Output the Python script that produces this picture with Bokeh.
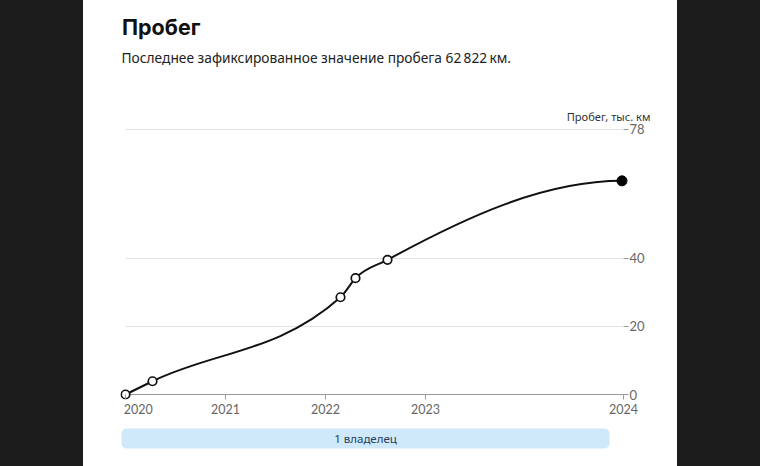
import numpy as np
from bokeh.plotting import figure
from bokeh.models import Range1d, FixedTicker, Label, Div, Grid, Title
from bokeh.layouts import row, column
from bokeh.embed import file_html
from bokeh.resources import INLINE
from bokeh.core.properties import value

# ---------------- data ----------------
title_text = "Пробег"
subtitle_text = "Последнее зафиксированное значение пробега 62\u202f822\u202fкм."
axis_title = "Пробег, тыс. км"

# mileage records: date (fractional year) and mileage (thousand km)
record_dates = [2020.00, 2020.27, 2022.15, 2022.30, 2022.62, 2024.965]
record_km = [0.0, 3.9, 28.6, 34.2, 39.6, 62.822]
today = 2024.98

year_ticks = [record_dates[0], 2021, 2022, 2023, today]
year_labels = ["2020", "2021", "2022", "2023", "2024"]
km_ticks = [0, 20, 40, 78]
km_grid = [20, 40, 78]

owner_labels = ["1 владелец"]
owner_start = [2019.96]
owner_end = [2024.84]

# ---------------- styling ----------------
DARK = "#1c1c1c"
SIDE_W = 83
CARD_W = 594
TOTAL_H = 466
HEAD_H = 100
MAIN_H = 320
BORDER_L = 37
BORDER_R = 49
AX_GRAY = "#9a9a9a"
LABEL_GRAY = "#666666"
GRID_GRAY = "#e4e4e4"

# first label is left-aligned at the axis start (padding with no-break spaces)
tick_texts = ["\u00a0" * 8 + year_labels[0]] + year_labels[1:]

# line through records, extended flat to today (monotone-x cubic as in d3)
line_x = record_dates + [today]
line_y = record_km + [record_km[-1]]


def monotone_tangents(xs, ys):
    n = len(xs)
    h = [xs[i + 1] - xs[i] for i in range(n - 1)]
    s = [(ys[i + 1] - ys[i]) / h[i] for i in range(n - 1)]
    t = [0.0] * n
    for i in range(1, n - 1):
        p_ = (s[i - 1] * h[i] + s[i] * h[i - 1]) / (h[i - 1] + h[i])
        sg = np.sign(s[i - 1]) + np.sign(s[i])
        t[i] = sg * min(abs(s[i - 1]), abs(s[i]), 0.5 * abs(p_))
    t[0] = (3 * s[0] - t[1]) / 2
    t[-1] = (3 * s[-1] - t[-2]) / 2
    return h, t


h, t = monotone_tangents(line_x, line_y)
x0 = line_x[:-1]
y0 = line_y[:-1]
x1 = line_x[1:]
y1 = line_y[1:]
cx0 = [x0[i] + h[i] / 3 for i in range(len(h))]
cy0 = [y0[i] + h[i] * t[i] / 3 for i in range(len(h))]
cx1 = [x1[i] - h[i] / 3 for i in range(len(h))]
cy1 = [y1[i] - h[i] * t[i + 1] / 3 for i in range(len(h))]

pad_x = 0.05
pad_y = 1.47
xr = Range1d(record_dates[0] - pad_x, today + pad_x)

# ---------------- header (title + subtitle) ----------------
p0 = figure(width=CARD_W, height=HEAD_H, output_backend="svg", toolbar_location=None,
            title=None, x_axis_type=None, y_axis_type=None,
            x_range=xr, y_range=Range1d(HEAD_H, 0),
            min_border_left=BORDER_L, min_border_right=BORDER_R,
            min_border_top=0, min_border_bottom=0)
p0.outline_line_color = None
p0.grid.visible = False
p0.add_layout(Label(x=record_dates[0], y=26.5, x_offset=-3.5,
                    text=title_text, text_font="Inter", text_font_style="bold",
                    text_font_size="21.5px", text_color="#111111", text_baseline="alphabetic"))
p0.add_layout(Label(x=record_dates[0], y=56.5, x_offset=-4,
                    text=subtitle_text, text_font="Noto Sans",
                    text_font_size="13.75px", text_color="#222222", text_baseline="alphabetic"))

# ---------------- main chart ----------------
p = figure(width=CARD_W, height=MAIN_H, output_backend="svg", toolbar_location=None,
           title=None, x_range=xr, y_range=Range1d(-pad_y, 79.1),
           y_axis_location="right",
           min_border_left=BORDER_L, min_border_right=BORDER_R,
           min_border_top=25, min_border_bottom=21)
p.outline_line_color = None

p.add_layout(Title(text=axis_title, align="right", offset=-22, standoff=3,
                   text_font="Noto Sans", text_font_style="normal",
                   text_font_size="11.1px", text_color="#333333"), "above")

# x axis
p.xaxis.ticker = FixedTicker(ticks=year_ticks)
p.xaxis.major_label_overrides = dict(zip(year_ticks, tick_texts))
p.xaxis.axis_line_color = None
p.xaxis.major_tick_in = 5
p.xaxis.major_tick_out = 0
p.xaxis.major_tick_line_color = AX_GRAY
p.xaxis.minor_tick_line_color = None
p.xaxis.major_label_standoff = 2
p.xaxis.major_label_text_font = "Lato"
p.xaxis.major_label_text_font_size = "12.5px"
p.xaxis.major_label_text_color = LABEL_GRAY

# y axis (right)
p.yaxis.ticker = FixedTicker(ticks=km_ticks)
p.yaxis.axis_line_color = None
p.yaxis.major_tick_in = 5
p.yaxis.major_tick_out = 0
p.yaxis.major_tick_line_color = AX_GRAY
p.yaxis.minor_tick_line_color = None
p.yaxis.major_label_standoff = 1
p.yaxis.major_label_text_font = "Lato"
p.yaxis.major_label_text_font_size = "13px"
p.yaxis.major_label_text_color = LABEL_GRAY

# grids
p.xgrid.visible = False
p.ygrid.ticker = FixedTicker(ticks=km_grid)
p.ygrid.grid_line_color = GRID_GRAY
p.ygrid.cross_bounds = (record_dates[0], today)
baseline = Grid(dimension=1, ticker=FixedTicker(ticks=[0]), grid_line_color=AX_GRAY,
                cross_bounds=(record_dates[0], today))
p.add_layout(baseline)

# curve
p.bezier(x0=x0, y0=y0, x1=x1, y1=y1, cx0=cx0, cy0=cy0, cx1=cx1, cy1=cy1,
         line_color="#111111", line_width=2)

# markers
p.scatter(record_dates[:-1], record_km[:-1], marker="circle", size=8.5,
          fill_color="white", line_color="#111111", line_width=1.7)
p.scatter(record_dates[-1:], record_km[-1:], marker="circle", size=10,
          fill_color="#000000", line_color="#000000")

# ---------------- owners bar ----------------
p2 = figure(width=CARD_W, height=TOTAL_H - HEAD_H - MAIN_H, output_backend="svg",
            toolbar_location=None, title=None, x_axis_type=None, y_axis_type=None,
            x_range=xr, y_range=Range1d(-1.4, 0.9),
            min_border_left=BORDER_L, min_border_right=BORDER_R,
            min_border_top=0, min_border_bottom=0)
p2.outline_line_color = None
p2.grid.visible = False
p2.hbar(y=[0], left=owner_start, right=owner_end, height=1,
        fill_color="#cfe9fb", line_color=None, border_radius=5)
p2.text(x=[(s + e) / 2 for s, e in zip(owner_start, owner_end)], y=[0], text=owner_labels,
        text_align="center", text_baseline="middle", text_font=value("Noto Sans"),
        text_font_size="11.5px", text_color="#24405c")

left = Div(text="", width=SIDE_W, height=TOTAL_H, margin=(0, 0, 0, 0),
           styles={"background-color": DARK})
right = Div(text="", width=SIDE_W, height=TOTAL_H, margin=(0, 0, 0, 0),
            styles={"background-color": DARK})

layout = row(left, column(p0, p, p2, spacing=0), right, spacing=0)

open("out.html", "w").write(file_html(layout, INLINE))
